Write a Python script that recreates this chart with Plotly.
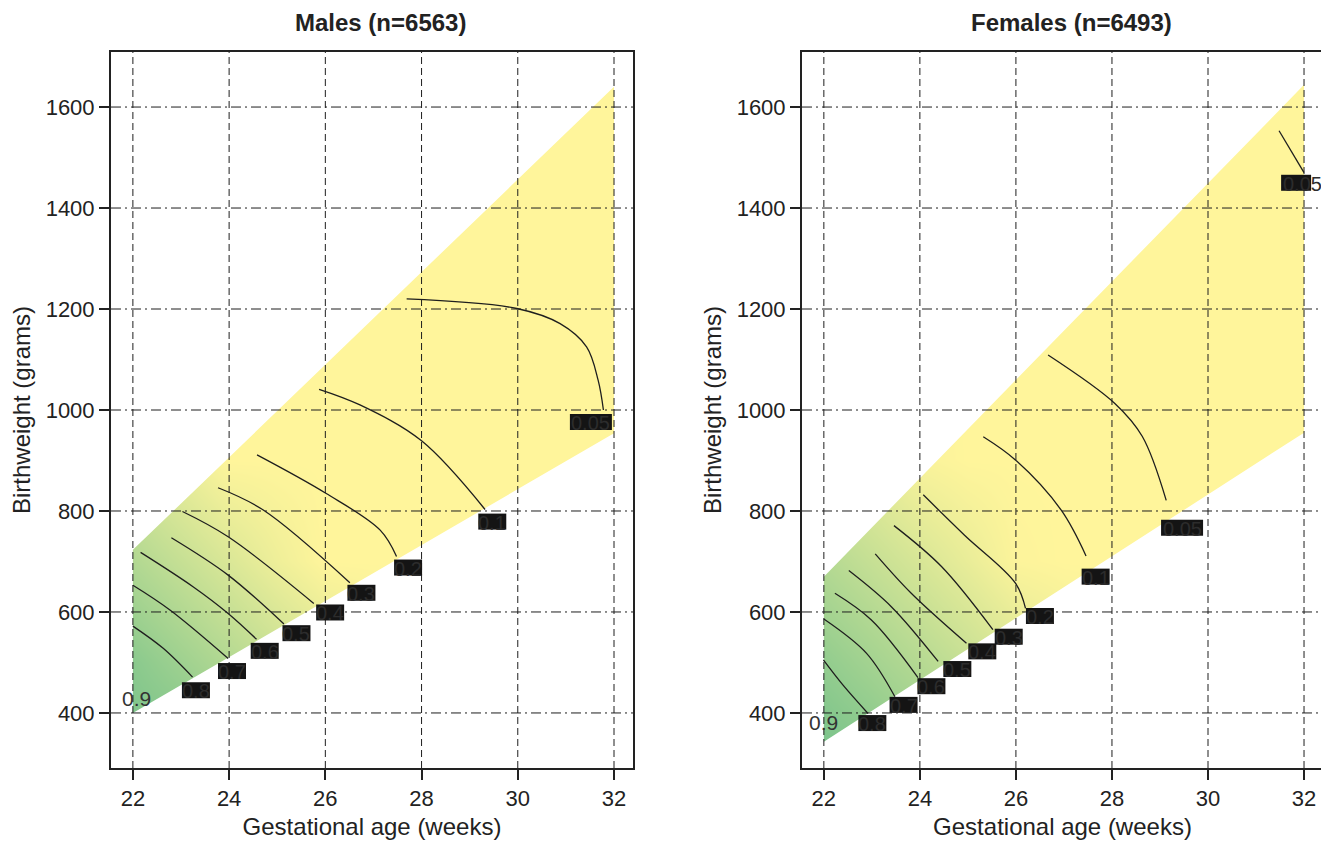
import plotly.graph_objects as go

# ---------------- data ----------------
ga_ticks = [22, 24, 26, 28, 30, 32]
bw_ticks = [400, 600, 800, 1000, 1200, 1400, 1600]

titles = ["Males (n=6563)", "Females (n=6493)"]

# band of observed birthweights (edges at GA 22 and 32)
band_ga = [22, 32]
male_band_low = [400, 954]
male_band_high = [723, 1640]
female_band_low = [343, 955]
female_band_high = [670, 1644]

# shading grid (0 = green, 1 = yellow)
shade_ga = [22, 23, 24, 25, 26, 27, 28, 29, 30, 31, 32]
shade_bw = [300, 500, 700, 900, 1100, 1300, 1500, 1700]
male_shade = [
    [0.00, 0.01, 0.16, 0.31, 0.46, 0.61, 0.76, 0.91, 1, 1, 1],
    [0.14, 0.29, 0.44, 0.59, 0.74, 0.89, 1, 1, 1, 1, 1],
    [0.43, 0.58, 0.73, 0.88, 1, 1, 1, 1, 1, 1, 1],
    [0.71, 0.86, 1, 1, 1, 1, 1, 1, 1, 1, 1],
    [1, 1, 1, 1, 1, 1, 1, 1, 1, 1, 1],
    [1, 1, 1, 1, 1, 1, 1, 1, 1, 1, 1],
    [1, 1, 1, 1, 1, 1, 1, 1, 1, 1, 1],
    [1, 1, 1, 1, 1, 1, 1, 1, 1, 1, 1],
]
female_shade = [
    [0.00, 0.08, 0.21, 0.34, 0.48, 0.61, 0.74, 0.87, 1, 1, 1],
    [0.20, 0.33, 0.46, 0.59, 0.73, 0.86, 1, 1, 1, 1, 1],
    [0.45, 0.58, 0.71, 0.84, 0.98, 1, 1, 1, 1, 1, 1],
    [0.70, 0.83, 0.96, 1, 1, 1, 1, 1, 1, 1, 1],
    [0.95, 1, 1, 1, 1, 1, 1, 1, 1, 1, 1],
    [1, 1, 1, 1, 1, 1, 1, 1, 1, 1, 1],
    [1, 1, 1, 1, 1, 1, 1, 1, 1, 1, 1],
    [1, 1, 1, 1, 1, 1, 1, 1, 1, 1, 1],
]

# contour lines of mortality probability: (GA points, BW points)
male_levels = ["0.8", "0.7", "0.6", "0.5", "0.4", "0.3", "0.2", "0.1", "0.05"]
male_contour_ga = [
    [22.0, 22.63, 23.24],
    [22.0, 22.77, 23.98],
    [22.16, 23.25, 23.98, 24.57],
    [22.8, 23.98, 25.14],
    [23.03, 23.98, 25.76],
    [23.77, 24.71, 26.51],
    [24.58, 26.01, 27.14, 27.48],
    [25.87, 26.72, 28.0, 29.32],
    [27.69, 29.98, 30.88, 31.43, 31.67, 31.78],
]
male_contour_bw = [
    [572, 528, 471],
    [653, 604, 508],
    [718, 650, 597, 546],
    [747, 673, 576],
    [799, 749, 617],
    [846, 802, 658],
    [911, 835, 762, 710],
    [1041, 1010, 939, 803],
    [1220, 1201, 1171, 1125, 1059, 1000],
]
male_label_ga = [23.31, 24.06, 24.74, 25.40, 26.10, 26.75, 27.72, 29.47, 31.52]
male_label_bw = [445, 483, 523, 558, 599, 638, 688, 779, 976]

female_levels = ["0.8", "0.7", "0.6", "0.5", "0.4", "0.3", "0.2", "0.1", "0.05", "0.05"]
female_contour_ga = [
    [21.99, 22.4, 22.92],
    [22.0, 22.89, 23.48],
    [22.23, 22.99, 23.96],
    [22.52, 23.41, 24.38],
    [23.07, 23.82, 24.97],
    [23.46, 24.45, 25.52],
    [24.07, 24.93, 25.99, 26.2],
    [25.32, 25.99, 26.94, 27.46],
    [26.67, 28.06, 28.63, 29.13],
    [31.48, 32.0],
]
female_contour_bw = [
    [505, 455, 399],
    [586, 518, 432],
    [637, 584, 470],
    [682, 610, 502],
    [715, 637, 538],
    [771, 690, 565],
    [832, 752, 657, 607],
    [947, 901, 802, 711],
    [1109, 1013, 948, 821],
    [1553, 1470],
]
female_label_ga = [23.01, 23.66, 24.24, 24.78, 25.30, 25.85, 26.50, 27.66, 29.46, 31.96]
female_label_bw = [380, 416, 453, 487, 522, 551, 592, 670, 767, 1450]

# the unboxed top level label
top_level = "0.9"
male_top_ga, male_top_bw = 22.08, 428
female_top_ga, female_top_bw = 22.0, 382

# ---------------- style ----------------
FONT = "Liberation Sans, Arial, Helvetica, sans-serif"
INK = "#1e1e1e"
GREEN = "#77c28b"
YELLOW = "#fff59b"
X_RANGE = [21.545, 32.395]
Y_RANGE = [291, 1709]

# the page puts the figure 8 px in from the window corner
OFF = 8
W, H = 1329 - OFF, 841 - OFF


def px_x(px):
    return (px - OFF) / W


def px_y(py):
    return 1 - (py - OFF) / H


X_DOMAINS = [[px_x(111), px_x(633)], [px_x(802), px_x(1323)]]
Y_DOMAIN = [px_y(768), px_y(52)]
TITLE_X = [px_x(380), px_x(1071)]

fig = go.Figure()

panels = [
    dict(shade=male_shade, low=male_band_low, high=male_band_high,
         cga=male_contour_ga, cbw=male_contour_bw, lev=male_levels,
         lga=male_label_ga, lbw=male_label_bw, tga=male_top_ga, tbw=male_top_bw),
    dict(shade=female_shade, low=female_band_low, high=female_band_high,
         cga=female_contour_ga, cbw=female_contour_bw, lev=female_levels,
         lga=female_label_ga, lbw=female_label_bw, tga=female_top_ga, tbw=female_top_bw),
]

shapes = []
annotations = []

for i, p in enumerate(panels):
    xa = "x" if i == 0 else "x2"
    ya = "y" if i == 0 else "y2"
    # smooth shading
    fig.add_trace(go.Heatmap(
        x=shade_ga, y=shade_bw, z=p["shade"], zmin=0, zmax=1, zsmooth="best",
        colorscale=[[0, GREEN], [1, YELLOW]], showscale=False, hoverinfo="skip",
        xaxis=xa, yaxis=ya))
    # white mask outside the band
    x0, x1 = X_RANGE[0] - 1, X_RANGE[1] + 1
    y0, y1 = Y_RANGE[0] - 200, Y_RANGE[1] + 200
    g0, g1 = band_ga
    mx = [x0, g0, g0, x0, x0, None,
          g1, x1, x1, g1, g1, None,
          g0, g1, g1, g0, g0, None,
          g0, g1, g1, g0, g0]
    my = [y0, y0, y1, y1, y0, None,
          y0, y0, y1, y1, y0, None,
          p["high"][0], p["high"][1], y1, y1, p["high"][0], None,
          p["low"][0], p["low"][1], y0, y0, p["low"][0]]
    fig.add_trace(go.Scatter(x=mx, y=my, mode="lines", fill="toself",
                             fillcolor="white", line=dict(width=0, color="white"),
                             hoverinfo="skip", xaxis=xa, yaxis=ya))
    # contour lines
    for cx, cy in zip(p["cga"], p["cbw"]):
        fig.add_trace(go.Scatter(x=cx, y=cy, mode="lines",
                                 line=dict(color=INK, width=1.3, shape="spline", smoothing=1.0),
                                 hoverinfo="skip", xaxis=xa, yaxis=ya))
    # grid lines above the shading
    for t in ga_ticks:
        shapes.append(dict(type="line", xref=xa, yref=ya + " domain", x0=t, x1=t, y0=0, y1=1,
                           line=dict(color=INK, width=1, dash="7px,4px"), layer="above"))
    for t in bw_ticks:
        shapes.append(dict(type="line", xref=xa + " domain", yref=ya, x0=0, x1=1, y0=t, y1=t,
                           line=dict(color=INK, width=1, dash="10px,4px,2px,4px"), layer="above"))
    # boxed contour labels
    for k, (lx, ly, txt) in enumerate(zip(p["lga"], p["lbw"], p["lev"])):
        w = 42 if len(txt) == 4 else 28
        off = 0
        if i == 1 and k == len(p["lev"]) - 1:
            w, off = 30, -6
        shapes.append(dict(type="rect", xref=xa, yref=ya, xsizemode="pixel", ysizemode="pixel",
                           xanchor=lx, yanchor=ly, x0=off - w / 2, x1=off + w / 2, y0=-8, y1=8,
                           fillcolor="#141414", line=dict(width=0), layer="above"))
        annotations.append(dict(x=lx, y=ly, xref=xa, yref=ya, text=txt, showarrow=False,
                                yshift=-1, font=dict(family=FONT, size=20, color="#2c2c2c")))
    annotations.append(dict(x=p["tga"], y=p["tbw"], xref=xa, yref=ya, text=top_level,
                            showarrow=False, font=dict(family=FONT, size=21, color="#333")))
    # panel title
    annotations.append(dict(x=TITLE_X[i], y=px_y(23), xref="paper", yref="paper",
                            xanchor="center", yanchor="middle",
                            text="<b>" + titles[i] + "</b>", showarrow=False,
                            font=dict(family=FONT, size=24, color="#222")))


def axis(dom, rng, ticks, title, anchor):
    return dict(domain=dom, range=rng, tickvals=ticks, ticktext=[str(t) for t in ticks],
                ticks="outside", ticklen=10, tickwidth=1.5, tickcolor="#222",
                showline=True, linewidth=2, linecolor="#222", mirror=True,
                showgrid=False, zeroline=False, automargin=False, anchor=anchor,
                tickfont=dict(family=FONT, size=22, color="#222"),
                title=dict(text=title, font=dict(family=FONT, size=24, color="#222"), standoff=8))


fig.update_layout(
    template="none",
    width=W, height=H,
    margin=dict(l=0, r=0, t=0, b=0),
    paper_bgcolor="white", plot_bgcolor="white",
    showlegend=False,
    font=dict(family=FONT, color="#222"),
    xaxis=axis(X_DOMAINS[0], X_RANGE, ga_ticks, "Gestational age (weeks)", "y"),
    yaxis=axis(Y_DOMAIN, Y_RANGE, bw_ticks, "Birthweight (grams)", "x"),
    xaxis2=axis(X_DOMAINS[1], X_RANGE, ga_ticks, "Gestational age (weeks)", "y2"),
    yaxis2=axis(Y_DOMAIN, Y_RANGE, bw_ticks, "Birthweight (grams)", "x2"),
    shapes=shapes,
    annotations=annotations,
)

fig.write_html("out.html")
